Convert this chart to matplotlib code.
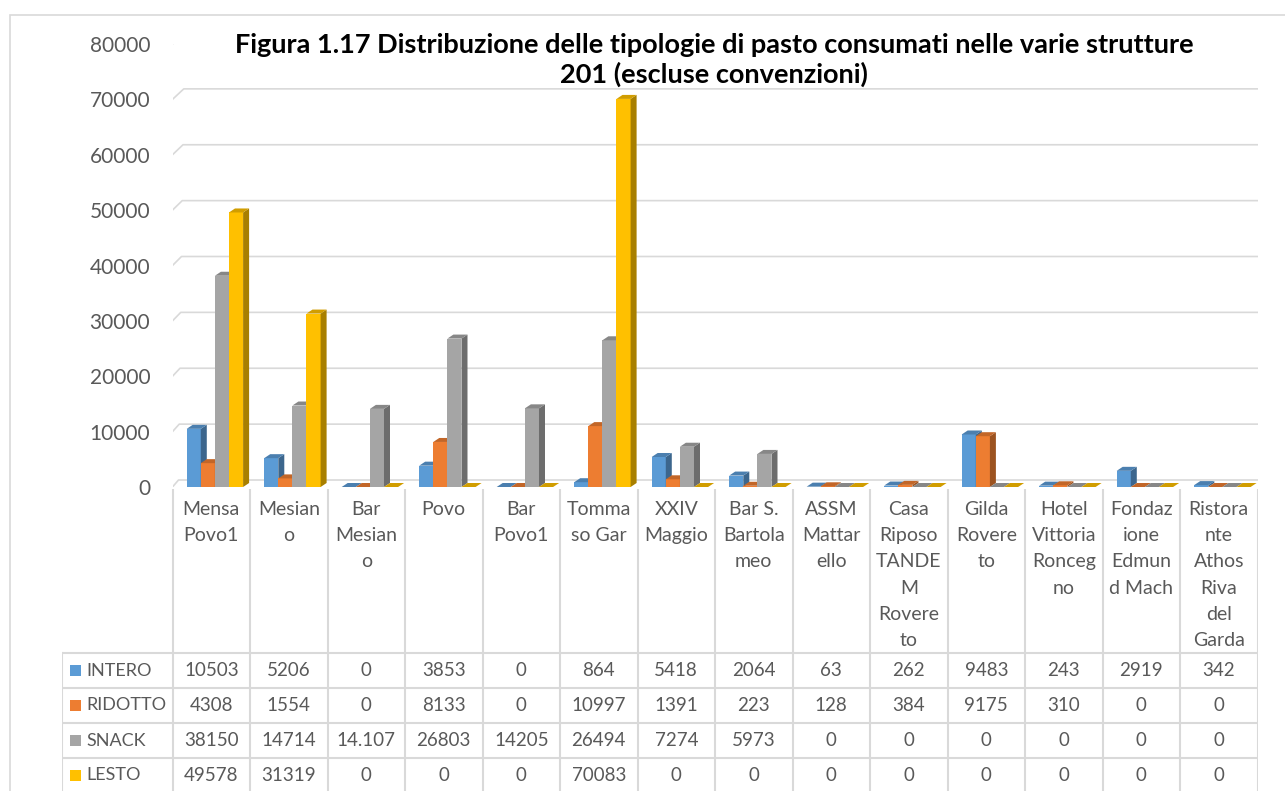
import matplotlib
matplotlib.use("Agg")
import matplotlib.pyplot as plt
from matplotlib.patches import Polygon, Rectangle
from matplotlib.lines import Line2D
import numpy as np

# ---------------- data ----------------
category_labels = [
    "Mensa\nPovo1", "Mesian\no", "Bar\nMesian\no", "Povo", "Bar\nPovo1",
    "Tomma\nso Gar", "XXIV\nMaggio", "Bar S.\nBartola\nmeo", "ASSM\nMattar\nello",
    "Casa\nRiposo\nTANDE\nM\nRovere\nto", "Gilda\nRovere\nto",
    "Hotel\nVittoria\nRonceg\nno", "Fondaz\nione\nEdmun\nd Mach",
    "Ristora\nnte\nAthos\nRiva\ndel\nGarda",
]
series_names = ["INTERO", "RIDOTTO", "SNACK", "LESTO"]
intero = [10503, 5206, 0, 3853, 0, 864, 5418, 2064, 63, 262, 9483, 243, 2919, 342]
ridotto = [4308, 1554, 0, 8133, 0, 10997, 1391, 223, 128, 384, 9175, 310, 0, 0]
snack = [38150, 14714, 14107, 26803, 14205, 26494, 7274, 5973, 0, 0, 0, 0, 0, 0]
lesto = [49578, 31319, 0, 0, 0, 70083, 0, 0, 0, 0, 0, 0, 0, 0]
# table text exactly as printed in the source (one cell uses a thousands dot)
snack_table_text = {2: "14.107"}
y_ticks = [0, 10000, 20000, 30000, 40000, 50000, 60000, 70000, 80000]
title_text = ("Figura 1.17 Distribuzione delle tipologie di pasto consumati nelle varie strutture\n"
              "201 (escluse convenzioni)")

series = [intero, ridotto, snack, lesto]
colors = ["#5B9BD5", "#ED7D31", "#A5A5A5", "#FFC000"]

W, H = 1285, 791
FONT = "Lato"
TXT = "#595959"
GRID = "#D9D9D9"

fig = plt.figure(figsize=(W / 100, H / 100), dpi=100)
fig.patch.set_facecolor("white")

def fx(x):
    return x / W

def fy(y):
    return 1 - y / H

# outer chart border
fig.add_artist(Rectangle((fx(10), fy(1000)), fx(1400), (1000 - 15) / H,
                         transform=fig.transFigure, fill=False,
                         edgecolor=GRID, lw=1.2))

# ---------------- main plot ----------------
ax = fig.add_axes([fx(172.5), fy(487), (1257.5 - 172.5) / W, (487 - 44) / H])
ax.set_xlim(-0.5, 13.5)
ax.set_ylim(0, 80000)
for s in ax.spines.values():
    s.set_visible(False)
ax.set_xticks([])
ax.set_yticks(y_ticks)
ax.set_yticklabels([str(v) for v in y_ticks], fontsize=15, color=TXT, family=FONT)
ax.tick_params(axis="y", length=0, pad=16)
ax.patch.set_alpha(0)

fig.canvas.draw()

def to_px(x, y):
    return ax.transData.transform((x, y))

# back-wall gridlines with a slanted front connector on the left
for v in y_ticks:
    t = v / 80000
    fl = to_px(-0.5, v)
    bl = fl + np.array([6 + 6 * t, 7 + 4 * t])
    br = np.array([to_px(13.5, v)[0] + 15, bl[1]])
    ax.add_line(Line2D([fl[0], bl[0], br[0]], [fl[1], bl[1], br[1]],
                       transform=None, color=GRID, lw=1.2, zorder=0.5))

# bars with fake 3D depth
n = len(category_labels)
xs = np.arange(n)
bw = 0.182
shift = 0.047
DX, DY = 6, 4

def darker(c, f):
    rgb = np.array(matplotlib.colors.to_rgb(c))
    return tuple(rgb * f)

for k, (vals, col) in enumerate(zip(series, colors)):
    pos = xs + shift + (k - 1.5) * bw
    z = 2 + k
    ax.bar(pos, vals, width=bw, color=col, edgecolor="none", zorder=z)
    for p, v in zip(pos, vals):
        xl, yb = to_px(p - bw / 2, 0)
        xr, yt = to_px(p + bw / 2, v)
        top = Polygon([(xl, yt), (xr, yt), (xr + DX, yt + DY), (xl + DX, yt + DY)],
                      closed=True, transform=None, facecolor=darker(col, 0.82),
                      edgecolor="none", zorder=z)
        side = Polygon([(xr, yb), (xr + DX, yb + DY), (xr + DX, yt + DY), (xr, yt)],
                       closed=True, transform=None, facecolor=darker(col, 0.66),
                       edgecolor="none", zorder=z)
        ax.add_patch(side)
        ax.add_patch(top)

# title
fig.text(fx(714), fy(60), title_text, ha="center", va="center",
         fontsize=19.5, fontweight="bold", family=FONT, color="black",
         linespacing=1.22)

# ---------------- data table ----------------
tab_left_px = 62
col_w_px = (1257.5 - 172.5) / n
tax = fig.add_axes([fx(tab_left_px), fy(791), (1257.5 - tab_left_px) / W, (791 - 489) / H])
xmin = -0.5 - (172.5 - tab_left_px) / col_w_px
tax.set_xlim(xmin, 13.5)
tax.set_ylim(302, 0)
tax.axis("off")

head_h = 164
row_h = 35
# vertical lines
for i in range(n + 1):
    tax.plot([i - 0.5, i - 0.5], [0, 302], color=GRID, lw=1.5, solid_capstyle="butt")
tax.plot([xmin, xmin], [head_h, 302], color=GRID, lw=1.5)
for r in range(4):
    y = head_h + r * row_h
    tax.plot([xmin, 13.5], [y, y], color=GRID, lw=1.5)

# category labels
for i, lab in enumerate(category_labels):
    tax.text(i, 12, lab, ha="center", va="top", fontsize=14, family=FONT,
             color=TXT, linespacing=1.66)

# rows
sw = 11 / col_w_px
for r, (name, vals, col) in enumerate(zip(series_names, series, colors)):
    yc = head_h + r * row_h + row_h / 2
    x0 = xmin + 8 / col_w_px
    tax.add_patch(Rectangle((x0, yc - 5.5), sw, 11, facecolor=col, edgecolor="none"))
    tax.text(x0 + sw + 5 / col_w_px, yc, name, ha="left", va="center",
             fontsize=13, family=FONT, color=TXT)
    for i, v in enumerate(vals):
        s = str(v)
        if name == "SNACK" and i in snack_table_text:
            s = snack_table_text[i]
        tax.text(i, yc, s, ha="center", va="center", fontsize=13.5,
                 family=FONT, color=TXT)

fig.savefig("out.png", dpi=100, facecolor="white")
